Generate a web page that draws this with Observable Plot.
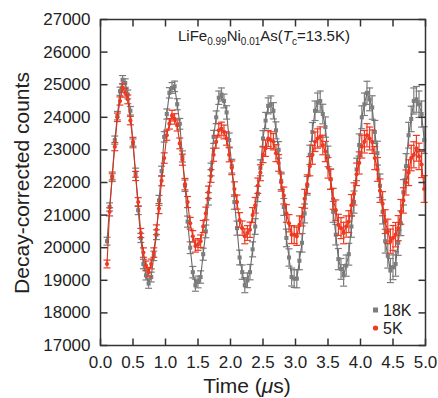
<!DOCTYPE html>
<html>
<head>
<meta charset="utf-8">
<script src="https://cdn.jsdelivr.net/npm/d3@7"></script>
<script src="https://cdn.jsdelivr.net/npm/@observablehq/plot@0.6"></script>
<style>
  html, body { margin: 0; padding: 0; background: #fff; }
  #chart { width: 438px; height: 398px; }
</style>
</head>
<body>
<div id="chart"></div>
<script>
// ---- data ----
const times = [
  0.10,0.14,0.18,0.22,0.26,0.30,0.34,0.38,0.42,0.46,
  0.50,0.54,0.58,0.62,0.66,0.70,0.74,0.78,0.82,0.86,
  0.90,0.94,0.98,1.02,1.06,1.10,1.14,1.18,1.22,1.26,
  1.30,1.34,1.38,1.42,1.46,1.50,1.54,1.58,1.62,1.66,
  1.70,1.74,1.78,1.82,1.86,1.90,1.94,1.98,2.02,2.06,
  2.10,2.14,2.18,2.22,2.26,2.30,2.34,2.38,2.42,2.46,
  2.50,2.54,2.58,2.62,2.66,2.70,2.74,2.78,2.82,2.86,
  2.90,2.94,2.98,3.02,3.06,3.10,3.14,3.18,3.22,3.26,
  3.30,3.34,3.38,3.42,3.46,3.50,3.54,3.58,3.62,3.66,
  3.70,3.74,3.78,3.82,3.86,3.90,3.94,3.98,4.02,4.06,
  4.10,4.14,4.18,4.22,4.26,4.30,4.34,4.38,4.42,4.46,
  4.50,4.54,4.58,4.62,4.66,4.70,4.74,4.78,4.82,4.86,
  4.90,4.94,4.98
];
const counts18K = [
  20200,21250,22150,23300,24050,24800,25150,25050,24700,24200,
  23200,22300,21150,20300,19500,19150,18900,19100,19750,20400,
  21450,22350,23400,24100,24750,24900,24950,24400,23800,22800,
  21900,20800,20000,19250,18850,18950,19100,19800,20500,21500,
  22400,23400,24000,24600,24700,24500,24150,23300,22500,21400,
  20600,19700,19250,18850,19000,19250,19950,20650,21650,22450,
  23350,23900,24350,24400,24200,23600,23000,22050,21250,20300,
  19700,19100,19050,19050,19600,20150,21050,21900,22850,23550,
  24200,24450,24500,24100,23700,22800,22100,21100,20400,19650,
  19350,19150,19450,19800,20650,21400,22400,23150,24000,24400,
  24750,24550,24300,23550,22900,21900,21100,20200,19750,19300,
  19400,19500,20150,20750,21700,22500,23450,23950,24500,24550,
  24400,24100,23300
];
const counts5K = [
  19500,21100,22200,23100,24000,24500,24900,24750,24550,23900,
  23250,22200,21400,20450,19850,19450,19250,19500,19850,20550,
  21200,22050,22750,23450,23800,24050,23950,23750,23200,22700,
  21950,21400,20750,20350,20050,20100,20200,20650,21050,21700,
  22200,22850,23250,23600,23650,23550,23350,22850,22450,21800,
  21400,20850,20600,20350,20450,20550,21000,21300,21900,22300,
  22850,23050,23350,23300,23250,22900,22600,22000,21600,21050,
  20750,20400,20400,20350,20700,20950,21500,21950,22500,22850,
  23250,23350,23400,23150,22950,22450,22100,21500,21150,20700,
  20600,20450,20650,20800,21300,21650,22250,22600,23100,23250,
  23450,23350,23250,22750,22400,21750,21350,20800,20500,20200,
  20300,20400,20600,21100,21450,22000,22300,22750,22850,23050,
  22800,22550,21800
];
const countErrors = [
  120,125,120,125,130,125,130,130,135,130,
  135,140,135,140,145,140,145,150,145,150,
  155,150,160,155,160,165,160,170,165,170,
  175,170,180,175,185,180,190,185,195,190,
  195,200,195,205,200,210,205,215,210,220,
  215,225,220,230,225,235,230,240,235,245,
  240,250,245,255,250,260,255,265,260,270,
  265,275,270,280,275,285,290,285,295,290,
  300,295,305,300,310,315,310,320,315,325,
  320,330,325,335,330,340,345,340,350,345,
  355,350,360,355,365,360,370,365,375,370,
  380,375,385,380,390,385,395,390,400,395,
  405,400,410
];
const seriesNames = ["18K", "5K"];
const seriesColors = ["#7d7d7d", "#ee3a22"];
const lineColors = ["#6a6a6a", "#d8321c"];
const xTicks = [0, 0.5, 1, 1.5, 2, 2.5, 3, 3.5, 4, 4.5, 5];
const yTicks = [17000, 18000, 19000, 20000, 21000, 22000, 23000, 24000, 25000, 26000, 27000];
const xLabel = ["Time (", "μ", "s)"];
const yLabel = "Decay-corrected counts";

// ---- table for the library ----
const table18 = times.map((t, i) => ({t, v: counts18K[i], e: countErrors[i]}));
const table5 = times.map((t, i) => ({t, v: counts5K[i], e: countErrors[i]}));

// custom symbols
const capSym = {draw(ctx) { ctx.moveTo(-3.5, 0); ctx.lineTo(3.5, 0); }};
const tickUp = {draw(ctx) { ctx.moveTo(0, 0); ctx.lineTo(0, -7); }};
const tickDown = {draw(ctx) { ctx.moveTo(0, 0); ctx.lineTo(0, 7); }};
const tickRightS = {draw(ctx) { ctx.moveTo(0, 0); ctx.lineTo(7, 0); }};
const tickLeftS = {draw(ctx) { ctx.moveTo(0, 0); ctx.lineTo(-7, 0); }};

function seriesMarks(data, idx, symbol, r) {
  const c = seriesColors[idx];
  return [
    Plot.ruleX(data, {x: "t", y1: d => d.v - d.e, y2: d => d.v + d.e, stroke: c, strokeWidth: 1.2}),
    Plot.dot(data, {x: "t", y: d => d.v - d.e, symbol: capSym, fill: "none", stroke: c, strokeWidth: 1.2}),
    Plot.dot(data, {x: "t", y: d => d.v + d.e, symbol: capSym, fill: "none", stroke: c, strokeWidth: 1.2}),
    Plot.line(data, {x: "t", y: "v", stroke: lineColors[idx], strokeWidth: 1.1}),
    Plot.dot(data, {x: "t", y: "v", symbol, r, fill: c, stroke: "none"})
  ];
}

const axisColor = "#333";
const chart = Plot.plot({
  width: 438,
  height: 398,
  marginLeft: 100,
  marginRight: 13,
  marginTop: 19,
  marginBottom: 53,
  style: {fontFamily: "'Liberation Sans', Arial, sans-serif", fontSize: "17px", color: "#222", background: "#fff"},
  x: {domain: [0, 5]},
  y: {domain: [17000, 27000]},
  marks: [
    ...seriesMarks(table18, 0, "square", 2.3),
    ...seriesMarks(table5, 1, "circle", 2.1),
    Plot.frame({stroke: axisColor, strokeWidth: 1.5}),
    Plot.dot(xTicks, {x: d => d, frameAnchor: "bottom", symbol: tickUp, fill: "none", stroke: axisColor, strokeWidth: 1.5}),
    Plot.dot(xTicks, {x: d => d, frameAnchor: "top", symbol: tickDown, fill: "none", stroke: axisColor, strokeWidth: 1.5}),
    Plot.dot(yTicks, {y: d => d, frameAnchor: "left", symbol: tickRightS, fill: "none", stroke: axisColor, strokeWidth: 1.5}),
    Plot.dot(yTicks, {y: d => d, frameAnchor: "right", symbol: tickLeftS, fill: "none", stroke: axisColor, strokeWidth: 1.5}),
    Plot.axisX({ticks: xTicks, tickSize: 0, tickPadding: 10, tickFormat: d3.format(".1f"), label: null, fontSize: 17}),
    Plot.axisY({ticks: yTicks, tickSize: 0, tickPadding: 10, tickFormat: d3.format("d"), label: null, fontSize: 17})
  ]
});
document.getElementById("chart").appendChild(chart);

// ---- texts added to the svg ----
const svg = d3.select(chart);
const font = "'Liberation Sans', Arial, sans-serif";

// title inside the plot
const title = svg.append("text")
  .attr("x", 264).attr("y", 41)
  .attr("text-anchor", "middle")
  .attr("font-family", font).attr("font-size", 15).attr("fill", "#222");
title.append("tspan").text("LiFe");
title.append("tspan").attr("dy", 4).attr("font-size", 10).text("0.99");
title.append("tspan").attr("dy", -4).text("Ni");
title.append("tspan").attr("dy", 4).attr("font-size", 10).text("0.01");
title.append("tspan").attr("dy", -4).text("As(");
title.append("tspan").attr("font-style", "italic").text("T");
title.append("tspan").attr("dy", 4).attr("font-size", 10).text("c");
title.append("tspan").attr("dy", -4).text("=13.5K)");

// y label
svg.append("text")
  .attr("transform", "translate(29,183) rotate(-90)")
  .attr("text-anchor", "middle")
  .attr("font-family", font).attr("font-size", 21).attr("fill", "#222")
  .text(yLabel);

// x label
const xl = svg.append("text")
  .attr("x", 247).attr("y", 393)
  .attr("text-anchor", "middle")
  .attr("font-family", font).attr("font-size", 21).attr("fill", "#222");
xl.append("tspan").text(xLabel[0]);
xl.append("tspan").attr("font-style", "italic").text(xLabel[1]);
xl.append("tspan").text(xLabel[2]);

// legend
const legend = svg.append("g").attr("font-family", font).attr("font-size", 16).attr("fill", "#222");
seriesNames.forEach((name, i) => {
  const cy = 310 + i * 18;
  if (i === 0) {
    legend.append("rect").attr("x", 373).attr("y", cy - 2.5).attr("width", 5).attr("height", 5).attr("fill", seriesColors[i]);
  } else {
    legend.append("circle").attr("cx", 375.5).attr("cy", cy).attr("r", 2.6).attr("fill", seriesColors[i]);
  }
  legend.append("text").attr("x", 383).attr("y", cy + 6).attr("text-anchor", "start").text(name);
});
</script>
</body>
</html>
